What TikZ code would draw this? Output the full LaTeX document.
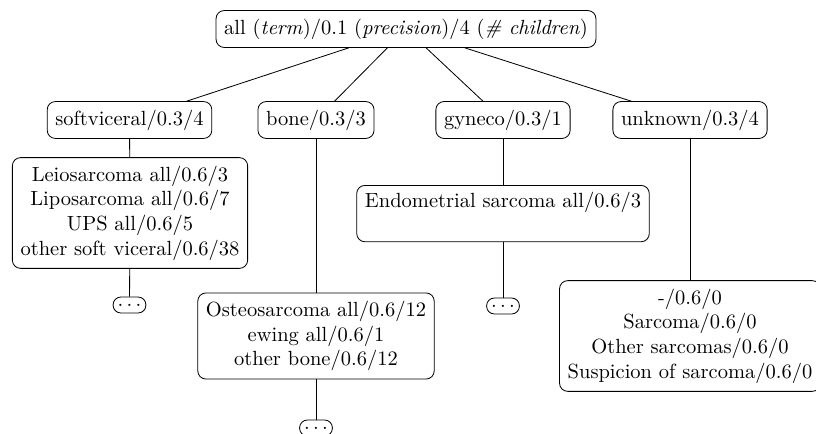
\documentclass[tikz,border=0pt]{standalone}
\begin{document}
\begin{tikzpicture}[x=0.4878pt,y=-0.4878pt,
  box/.style={draw,rounded corners=4pt,align=center,inner sep=4pt},
  more/.style={draw,rounded corners=3.8pt,inner sep=0pt,minimum width=16pt,minimum height=7.8pt,text height=5pt,text depth=0pt}]
\useasboundingbox (0,0) rectangle (816,434);
\node[box] (root) at (406,29) {all (\emph{term})/0.1 (\emph{precision})/4 (\emph{\# children})};
\node[box] (soft) at (129.5,120) {softviceral/0.3/4};
\node[box] (bone) at (316,120) {bone/0.3/3};
\node[box] (gyn) at (503,120) {gyneco/0.3/1};
\node[box] (unk) at (690,120) {unknown/0.3/4};
\node[box] (leio) at (130,213) {Leiosarcoma all/0.6/3\\Liposarcoma all/0.6/7\\UPS all/0.6/5\\other soft viceral/0.6/38};
\node[box,text height=6.9pt,text depth=12.6pt,anchor=north] (endo) at (503,185) {Endometrial sarcoma all/0.6/3};
\node[box] (osteo) at (316,336) {Osteosarcoma all/0.6/12\\ewing all/0.6/1\\other bone/0.6/12};
\node[box] (unkc) at (690,336) {-/0.6/0\\Sarcoma/0.6/0\\Other sarcomas/0.6/0\\Suspicion of sarcoma/0.6/0};
\node[more] (softd) at (129.5,305) {$\cdots$};
\node[more] (gynd) at (503,306) {$\cdots$};
\node[more] (boned) at (316,428) {$\cdots$};
\draw (root) -- (soft);
\draw (root) -- (bone);
\draw (root) -- (gyn);
\draw (root) -- (unk);
\draw (soft) -- (leio);
\draw (leio) -- (softd);
\draw (bone) -- (osteo);
\draw (osteo) -- (boned);
\draw (gyn) -- (endo);
\draw (endo) -- (gynd);
\draw (unk) -- (unkc);
\end{tikzpicture}
\end{document}
